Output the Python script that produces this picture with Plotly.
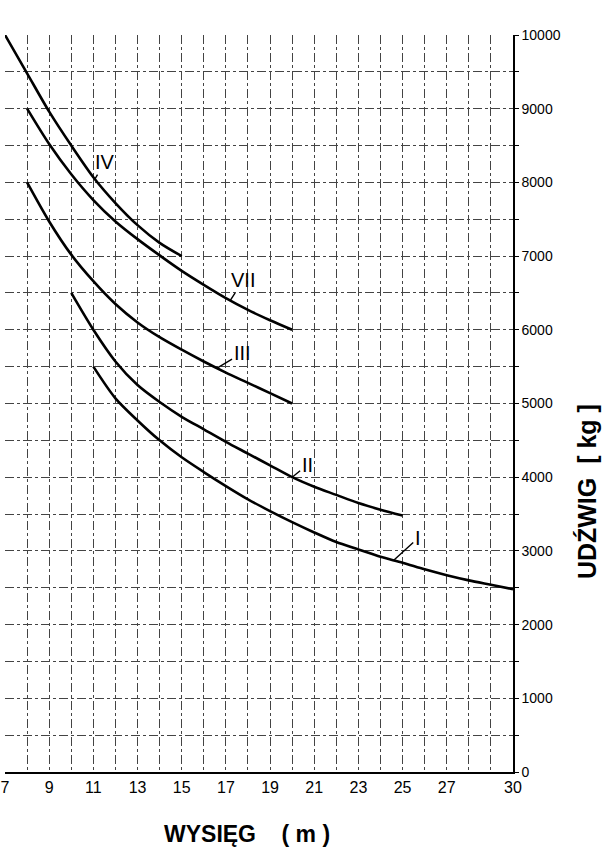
'''
Lifting capacity (udzwig) vs. working radius (wysieg) for crane variants I-VII
'''

import numpy as np
import plotly.graph_objects as go

# reach in metres, capacity in kg
x_iv = [7, 8, 9, 10, 11, 12, 13, 14, 15]
y_iv = [10000, 9480, 8960, 8500, 8070, 7720, 7420, 7180, 7000]

x_vii = [8, 9, 10, 11, 12, 13, 14, 15, 16, 17, 18, 19, 20]
y_vii = [9000, 8520, 8110, 7760, 7470, 7230, 7010, 6800, 6610, 6430, 6270, 6130, 6000]

x_iii = [8, 9, 10, 11, 12, 13, 14, 15, 16, 17, 18, 19, 20]
y_iii = [8000, 7470, 7020, 6660, 6350, 6100, 5900, 5730, 5570, 5420, 5280, 5140, 5000]

x_ii = [10, 11, 12, 13, 14, 15, 16, 17, 18, 19, 20, 21, 22, 23, 24, 25]
y_ii = [6500, 6000, 5570, 5250, 5020, 4820, 4650, 4480, 4320, 4160, 4000,
        3870, 3760, 3650, 3560, 3480]

x_i = [11, 12, 13, 14, 15, 16, 17, 18, 19, 20, 21, 22, 23, 24, 25, 26, 27, 28, 29, 30]
y_i = [5500, 5070, 4770, 4500, 4270, 4070, 3880, 3700, 3540, 3390, 3250,
       3120, 3020, 2920, 2840, 2750, 2670, 2600, 2540, 2480]

curve_names = ['IV', 'VII', 'III', 'II', 'I']
curve_x = [x_iv, x_vii, x_iii, x_ii, x_i]
curve_y = [y_iv, y_vii, y_iii, y_ii, y_i]

x_ticks = list(range(7, 31))
x_ticklabels = ['7', '', '9', '', '11', '', '13', '', '15', '', '17', '', '19', '',
                '21', '', '23', '', '25', '', '27', '', '', '30']
y_ticks = list(range(0, 10001, 500))
y_ticklabels = [str(v) if v % 1000 == 0 else '' for v in y_ticks]

NARROW = 'Liberation Sans Narrow, Liberation Sans, Arial, sans-serif'

fig = go.Figure()

for name, xs, ys in zip(curve_names, curve_x, curve_y):
    fig.add_trace(go.Scatter(
        x=xs, y=ys, name=name, mode='lines',
        line=dict(color='black', width=2.6, shape='spline', smoothing=0.8),
        cliponaxis=False, hoverinfo='x+y+name'))

# roman numeral labels with short leader lines pointing at each curve
# (where along the curve, then text offset in px)
leaders = {
    'IV': (11.07, 10, -17),
    'VII': (17.2, 13, -20),
    'III': (16.6, 25, -15),
    'II': (20.0, 15, -12),
    'I': (24.6, 24, -22),
}
for name, xs, ys in zip(curve_names, curve_x, curve_y):
    at_x, ax, ay = leaders[name]
    fig.add_annotation(
        x=at_x, y=float(np.interp(at_x, xs, ys)), text=name,
        showarrow=True, arrowhead=0, arrowwidth=1.4, arrowcolor='black',
        ax=ax, ay=ay, standoff=0,
        font=dict(family=NARROW, size=20, color='black'))

fig.add_annotation(
    text='<b>WYSIĘG    ( m )</b>', xref='paper', yref='paper',
    x=0.476, y=-0.084, xanchor='center', yanchor='middle',
    showarrow=False, font=dict(family=NARROW, size=23, color='black'))
fig.add_annotation(
    text='<b>UDŹWIG  [ kg ]</b>', xref='paper', yref='paper',
    x=1.146, y=0.38, xanchor='center', yanchor='middle',
    textangle=-90, showarrow=False,
    font=dict(family=NARROW, size=25, color='black'))

fig.update_layout(
    width=608, height=856,
    margin=dict(l=5, r=95, t=35, b=84),
    paper_bgcolor='white', plot_bgcolor='white',
    showlegend=False,
    xaxis=dict(
        range=[7, 30], tickmode='array', tickvals=x_ticks, ticktext=x_ticklabels,
        showgrid=True, gridcolor='#444', griddash='dashdot', gridwidth=1,
        showline=True, linecolor='black', linewidth=1.5,
        ticks='', zeroline=False, automargin=False,
        tickfont=dict(family=NARROW, size=16, color='black')),
    yaxis=dict(
        range=[0, 10000], side='right', tickmode='array',
        tickvals=y_ticks, ticktext=y_ticklabels,
        showgrid=True, gridcolor='#444', griddash='dashdot', gridwidth=1,
        showline=True, linecolor='black', linewidth=1.5,
        ticks='outside', ticklen=4, tickcolor='black', zeroline=False,
        automargin=False,
        tickfont=dict(family=NARROW, size=14, color='black')),
)

# the page's default 8px body margin would shift the whole figure
fig.write_html('out.html', config={'displayModeBar': False},
               post_script="document.body.style.margin='0';")
